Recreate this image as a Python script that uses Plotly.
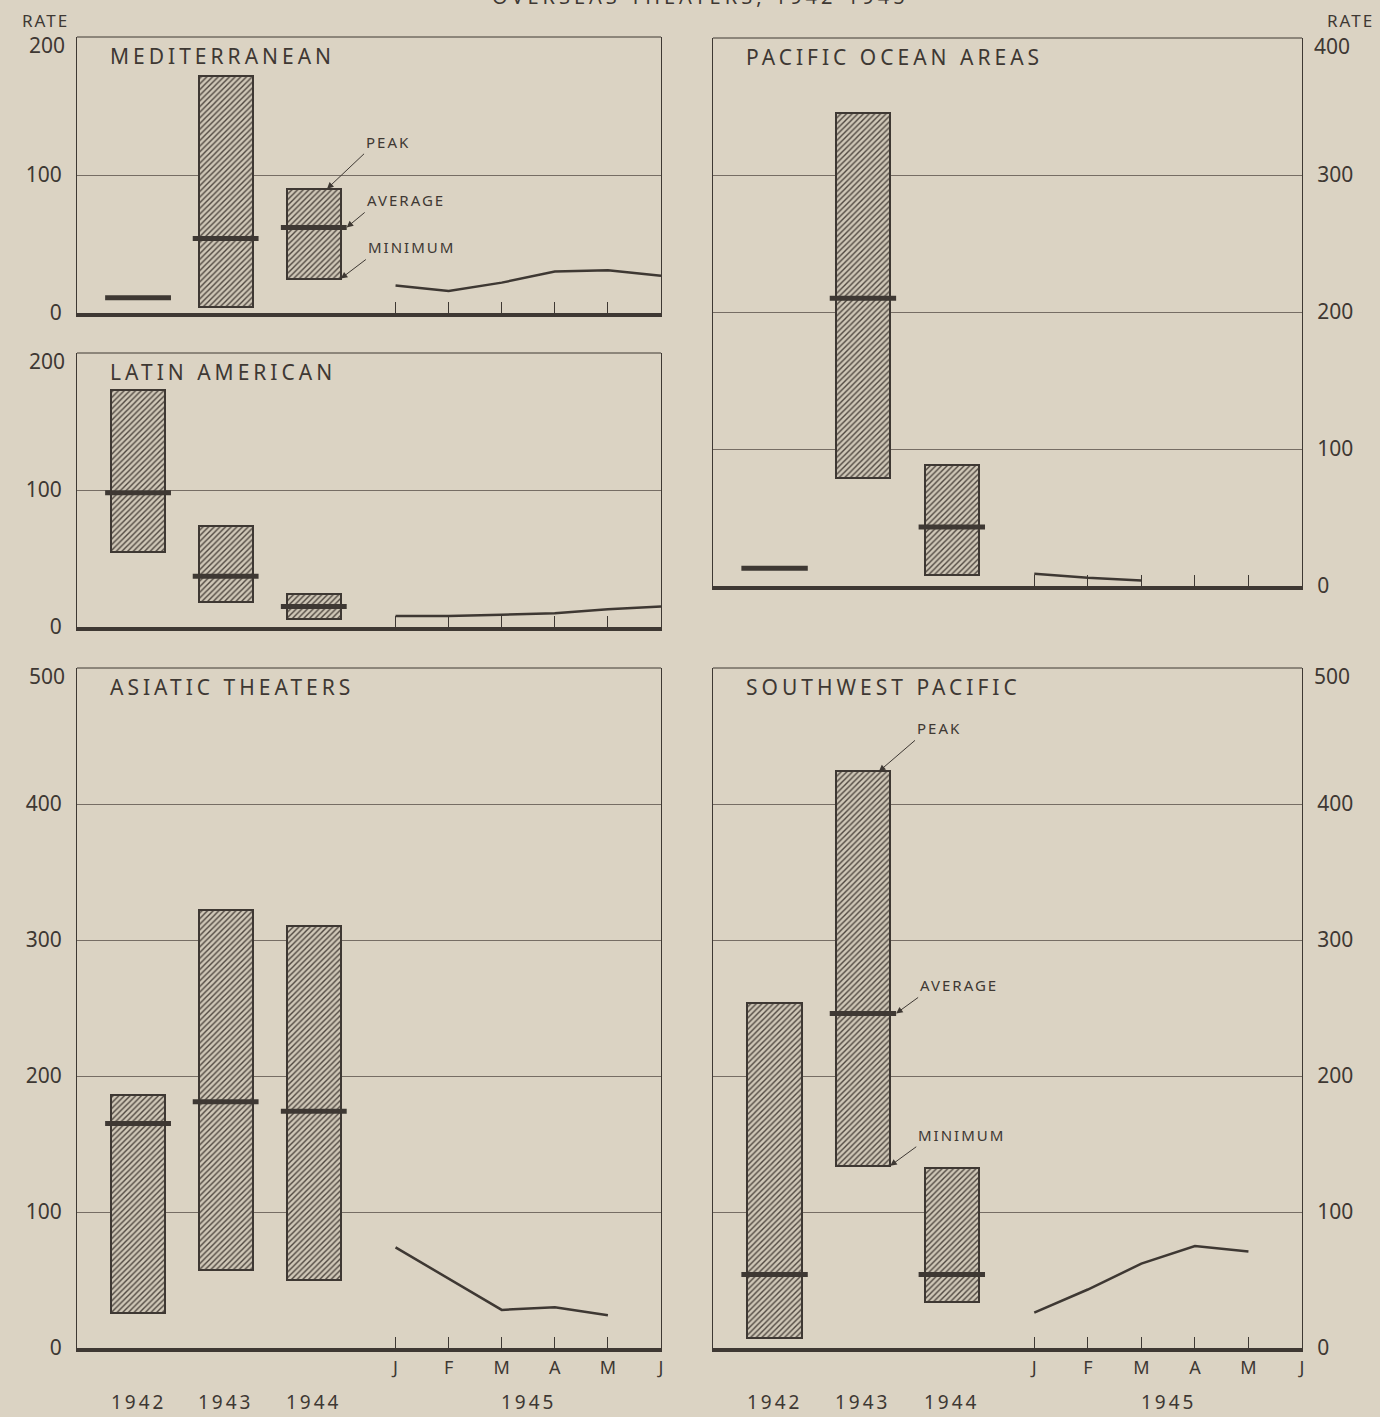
import plotly.graph_objects as go

W, H = 1380, 1417

# ---------------- data ----------------
YEARS = ["1942", "1943", "1944"]
YEAR_1945 = "1945"
MONTHS = ["J", "F", "M", "A", "M", "J"]

med_peak = [None, 172, 90]
med_min = [None, 4, 25]
med_avg = [11, 54, 62]
med_1945 = [20, 16, 22, 30, 31, 27]

lat_peak = [173, 74, 24]
lat_min = [55, 18, 6]
lat_avg = [98, 37, 15]
lat_1945 = [8, 8, 9, 10, 13, 15]

pac_peak = [None, 345, 88]
pac_min = [None, 79, 8]
pac_avg = [13, 210, 43]
pac_1945 = [9, 6, 4]

asia_peak = [186, 322, 310]
asia_min = [26, 57, 50]
asia_avg = [165, 181, 174]
asia_1945 = [74, 51, 28, 30, 24]

swp_peak = [254, 424, 132]
swp_min = [7, 134, 34]
swp_avg = [54, 246, 54]
swp_1945 = [26, 43, 62, 75, 71]

# ---------------- layout constants ----------------
X_YEAR = [1.15, 2.8, 4.46]
X_MONTH = [6, 7, 8, 9, 10, 11]
X_1945 = 8.5
BAR_W = 1.02
AVG_HALF = 0.62

BG = "#dbd3c3"
INK = "#3e3833"
GRID = "#766d64"
FONT = "Noto Sans"


def px_x(p):
    return p / W


def px_y(p):
    return 1 - p / H


def spaced(t, s=2):
    return f'<span style="letter-spacing:{s}px">{t}</span>'


panels = [
    # name, title, peak, min, avg, line, ymax, x-dom px, y-dom px, side, bottom
    ("1", "MEDITERRANEAN", med_peak, med_min, med_avg, med_1945, 200, (77, 661), (37, 313), "left", False),
    ("2", "LATIN AMERICAN", lat_peak, lat_min, lat_avg, lat_1945, 200, (77, 661), (353, 627), "left", False),
    ("3", "PACIFIC OCEAN AREAS", pac_peak, pac_min, pac_avg, pac_1945, 400, (713, 1302), (38, 586), "right", False),
    ("4", "ASIATIC THEATERS", asia_peak, asia_min, asia_avg, asia_1945, 500, (77, 661), (668, 1348), "left", True),
    ("5", "SOUTHWEST PACIFIC", swp_peak, swp_min, swp_avg, swp_1945, 500, (713, 1302), (668, 1348), "right", True),
]

fig = go.Figure()
layout = dict(
    template="none",
    width=W, height=H, autosize=False,
    paper_bgcolor=BG, plot_bgcolor=BG,
    margin=dict(l=0, r=0, t=0, b=0, pad=0),
    showlegend=False,
    font=dict(family=FONT, color=INK),
    bargap=0,
)
annotations = []
shapes = []

for (n, title, pk, mn, av, ln, ymax, xd, yd, side, bottom) in panels:
    xa = "x" if n == "1" else "x" + n
    ya = "y" if n == "1" else "y" + n
    # bars (minimum to peak)
    bx, by, bb = [], [], []
    for i in range(3):
        if pk[i] is not None and mn[i] is not None:
            bx.append(X_YEAR[i])
            by.append(pk[i] - mn[i])
            bb.append(mn[i])
    fig.add_trace(go.Bar(
        x=bx, y=by, base=bb, width=BAR_W, xaxis=xa, yaxis=ya,
        marker=dict(color="#cbc3b3", line=dict(color=INK, width=2),
                    pattern=dict(shape="/", fgcolor="#4f4740", bgcolor="#cfc7b7",
                                 size=4, solidity=0.35)),
        hoverinfo="skip",
    ))
    # average lines
    ax_, ay_ = [], []
    for i in range(3):
        ax_ += [X_YEAR[i] - AVG_HALF, X_YEAR[i] + AVG_HALF, None]
        ay_ += [av[i], av[i], None]
    fig.add_trace(go.Scatter(x=ax_, y=ay_, mode="lines", xaxis=xa, yaxis=ya,
                             line=dict(color=INK, width=5), hoverinfo="skip"))
    # 1945 monthly line
    fig.add_trace(go.Scatter(x=X_MONTH[:len(ln)], y=ln, mode="lines", xaxis=xa, yaxis=ya,
                             line=dict(color=INK, width=2.5), hoverinfo="skip"))

    xkey = "xaxis" if n == "1" else "xaxis" + n
    ykey = "yaxis" if n == "1" else "yaxis" + n
    layout[xkey] = dict(
        domain=[px_x(xd[0]), px_x(xd[1])], anchor=ya, range=[0, 11],
        showgrid=False, zeroline=False, showline=True, linecolor=INK, linewidth=4,
        ticks="inside", ticklen=11, tickwidth=1, tickcolor=INK,
        tickvals=X_MONTH, ticktext=MONTHS, showticklabels=bottom,
        tickfont=dict(size=18, color=INK, family=FONT),
        automargin=False, fixedrange=True,
    )
    yvals = list(range(0, ymax + 1, 100))
    ytext = [str(v) for v in yvals[:-1]] + [""]
    layout[ykey] = dict(
        domain=[px_y(yd[1]), px_y(yd[0])], anchor=xa, range=[0, ymax],
        tickvals=yvals, ticktext=ytext, side=side,
        showgrid=True, gridcolor=GRID, gridwidth=1, zeroline=False,
        showline=True, mirror=True, linecolor=INK, linewidth=1,
        ticks="", ticklabelstandoff=10,
        tickfont=dict(size=21, color=INK, family=FONT),
        automargin=False, fixedrange=True,
    )
    # top axis value label, set a little below the top border as in the original
    if side == "left":
        annotations.append(dict(text=str(yvals[-1]), xref="paper", yref="paper",
                                x=px_x(xd[0] - 10), y=px_y(yd[0] + 8), xanchor="right", yanchor="middle",
                                showarrow=False, font=dict(size=21, color=INK, family=FONT)))
    else:
        annotations.append(dict(text=str(yvals[-1]), xref="paper", yref="paper",
                                x=px_x(xd[1] + 10), y=px_y(yd[0] + 8), xanchor="left", yanchor="middle",
                                showarrow=False, font=dict(size=21, color=INK, family=FONT)))
    shapes.append(dict(type="line", xref=xa + " domain", yref=ya + " domain",
                       x0=0, x1=1, y0=1, y1=1, line=dict(color=INK, width=1)))
    annotations.append(dict(
        text=spaced(title, 4), xref="paper", yref="paper",
        x=px_x(xd[0] + 31), y=px_y(yd[0] + 19), xanchor="left", yanchor="middle",
        showarrow=False, font=dict(size=21, color=INK, family=FONT)))
    if bottom:
        for i in range(3):
            annotations.append(dict(
                text=spaced(YEARS[i], 3), xref=xa, yref="paper", x=X_YEAR[i], y=px_y(1402),
                xanchor="center", yanchor="middle", showarrow=False,
                font=dict(size=19, color=INK, family=FONT)))
        annotations.append(dict(
            text=spaced(YEAR_1945, 3), xref=xa, yref="paper", x=X_1945, y=px_y(1402),
            xanchor="center", yanchor="middle", showarrow=False,
            font=dict(size=19, color=INK, family=FONT)))

# RATE labels
annotations.append(dict(text=spaced("RATE", 2), xref="paper", yref="paper",
                        x=px_x(45), y=px_y(20), xanchor="center", yanchor="middle",
                        showarrow=False, font=dict(size=17, color=INK, family=FONT)))
annotations.append(dict(text=spaced("RATE", 2), xref="paper", yref="paper",
                        x=px_x(1350), y=px_y(20), xanchor="center", yanchor="middle",
                        showarrow=False, font=dict(size=17, color=INK, family=FONT)))

# heading, only its lower edge shows at the very top as in the original
annotations.append(dict(text=spaced("OVERSEAS THEATERS, 1942-1945", 4), xref="paper", yref="paper",
                        x=px_x(700), y=px_y(-3), xanchor="center", yanchor="middle",
                        showarrow=False, font=dict(size=20, color=INK, family=FONT)))


def callout(label, xa, ya, x, y, axp, ayp):
    return dict(text=spaced(label, 2), xref=xa, yref=ya, x=x, y=y,
                ax=axp, ay=ayp, axref="pixel", ayref="pixel",
                xanchor="left", yanchor="bottom", showarrow=True,
                arrowhead=2, arrowsize=1.3, arrowwidth=1, arrowcolor=INK,
                font=dict(size=15, color=INK, family=FONT))


# Mediterranean callouts (1944 bar)
annotations.append(callout("PEAK", "x", "y", X_YEAR[2] + 0.25, med_peak[2], 37, -35))
annotations.append(callout("AVERAGE", "x", "y", X_YEAR[2] + AVG_HALF, med_avg[2], 18, -15))
annotations.append(callout("MINIMUM", "x", "y", X_YEAR[2] + BAR_W / 2, med_min[2], 25, -19))
# Southwest Pacific callouts (1943 bar)
annotations.append(callout("PEAK", "x5", "y5", X_YEAR[1] + 0.3, swp_peak[1], 36, -31))
annotations.append(callout("AVERAGE", "x5", "y5", X_YEAR[1] + AVG_HALF, swp_avg[1], 22, -16))
annotations.append(callout("MINIMUM", "x5", "y5", X_YEAR[1] + BAR_W / 2, swp_min[1], 26, -19))

layout["annotations"] = annotations
layout["shapes"] = shapes
fig.update_layout(**layout)

fig.write_html("out.html", config={"displayModeBar": False},
               post_script="document.body.style.margin='0';document.body.style.overflow='hidden';")
